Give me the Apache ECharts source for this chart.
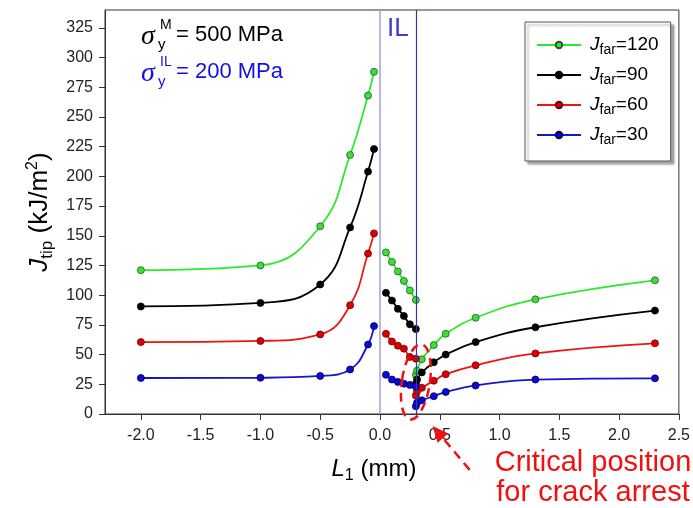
<!DOCTYPE html>
<html>
<head>
<meta charset="utf-8">
<script src="https://cdn.jsdelivr.net/npm/echarts@6.0.0/dist/echarts.min.js"></script>
<style>
  html, body { margin: 0; padding: 0; background: #fff; }
  #chart { width: 693px; height: 508px; }
</style>
</head>
<body>
<div id="chart"></div>
<script>
// L1 positions (mm): matrix left of the interlayer, the interlayer (0..0.3), matrix right
const leftX  = [-2.0, -1.0, -0.5, -0.25, -0.1, -0.05];
const ilX    = [0.05, 0.1, 0.15, 0.2, 0.25, 0.3];
const rightX = [0.3, 0.31, 0.35, 0.45, 0.55, 0.8, 1.3, 2.3];

// J_tip (kJ/m2), one set per far-field J
const j120Left  = [121, 125, 158, 218, 268, 288];
const j120IL    = [136, 128, 120, 112, 104, 96];
const j120Right = [33, 36.5, 46, 58, 67.5, 81, 96.5, 112.5];

const j90Left  = [90.5, 93.5, 109, 157, 204, 223];
const j90IL    = [102, 95.5, 88.5, 82.5, 75.5, 71.5];
const j90Right = [25.5, 29, 35, 43.5, 50, 60.5, 73, 87];

const j60Left  = [60.5, 61.5, 67, 91.5, 135, 152];
const j60IL    = [67.5, 61, 57.5, 55, 48, 46.5];
const j60Right = [15.5, 19, 22, 28, 33.5, 41, 51, 59.5];

const j30Left  = [30.3, 30.5, 32, 37.5, 58.5, 74];
const j30IL    = [33, 29, 27, 25.5, 24.5, 23];
const j30Right = [6.5, 9.5, 11.5, 15, 18.5, 24, 29, 30];

const jFar = [120, 90, 60, 30];
const ilBounds = [0, 0.3];
const xTicks = [-2.0, -1.5, -1.0, -0.5, 0.0, 0.5, 1.0, 1.5, 2.0, 2.5];
const yTicks = [0, 25, 50, 75, 100, 125, 150, 175, 200, 225, 250, 275, 300, 325];

const FONT = '"Liberation Sans", Arial, sans-serif';

const curves = [
  { far: 120, parts: [j120Left, j120IL, j120Right], line: '#2de82d', fill: '#3fdc3f', edge: '#1d5e1d' },
  { far: 90,  parts: [j90Left,  j90IL,  j90Right],  line: '#000000', fill: '#000000', edge: '#000000' },
  { far: 60,  parts: [j60Left,  j60IL,  j60Right],  line: '#ee1414', fill: '#dd0000', edge: '#6a0000' },
  { far: 30,  parts: [j30Left,  j30IL,  j30Right],  line: '#1616c8', fill: '#0a0ad0', edge: '#000060' },
];
const xParts = [leftX, ilX, rightX];

const pairs = (xs, ys) => xs.map((x, i) => [x, ys[i]]);

const series = [];
// boundaries of the interlayer, drawn under the curves
series.push({
  type: 'line', data: [], silent: true, z: 1,
  markLine: {
    symbol: 'none', silent: true, animation: false,
    label: { show: false },
    data: [
      { xAxis: ilBounds[0], lineStyle: { color: '#a0a0e0', width: 1.5, type: 'solid' } },
      { xAxis: ilBounds[1], lineStyle: { color: '#3535a8', width: 1.2, type: 'solid' } },
    ],
  },
});
curves.forEach(c => {
  c.parts.forEach((ys, k) => {
    series.push({
      name: 'Jfar=' + c.far,
      type: 'line',
      z: 3,
      smooth: 0.45,
      symbol: 'circle',
      symbolSize: 7,
      showSymbol: true,
      animation: false,
      data: pairs(xParts[k], ys),
      lineStyle: { color: c.line, width: 1.8 },
      itemStyle: { color: c.fill, borderColor: c.edge, borderWidth: 0.8 },
    });
  });
});

const axisCommon = {
  axisLine: { onZero: false, lineStyle: { color: '#333', width: 1 } },
  splitLine: { show: false },
};

const chart = echarts.init(document.getElementById('chart'), null, { renderer: 'canvas' });
chart.setOption({
  animation: false,
  backgroundColor: '#fff',
  grid: { left: 105, right: 11, top: 10, bottom: 94, show: true, borderColor: '#333', borderWidth: 1 },
  legend: {
    data: jFar.map(v => 'Jfar=' + v),
    orient: 'vertical',
    left: 525, top: 22,
    padding: [11, 12, 14, 11],
    itemWidth: 44, itemHeight: 8, itemGap: 6,
    backgroundColor: '#fff',
    borderColor: '#555', borderWidth: 1,
    shadowColor: 'rgba(0,0,0,0.35)', shadowBlur: 2, shadowOffsetX: 3, shadowOffsetY: 3,
    formatter: n => '{j|J}{s|far}{t|' + n.slice(4) + '}',
    textStyle: {
      rich: {
        j: { fontFamily: FONT, fontStyle: 'italic', fontSize: 19, lineHeight: 24, color: '#000', padding: [0, 0, 0, 4] },
        s: { fontFamily: FONT, fontSize: 14, lineHeight: 14, color: '#000', padding: [10, 0, 0, 0] },
        t: { fontFamily: FONT, fontSize: 19, lineHeight: 24, color: '#000' },
      },
    },
  },
  xAxis: {
    type: 'value', min: -2.3, max: 2.5,
    ...axisCommon,
    axisTick: { length: 6, lineStyle: { color: '#333' }, customValues: xTicks },
    axisLabel: { customValues: xTicks, formatter: v => v.toFixed(1), color: '#222', fontSize: 16, fontFamily: FONT, margin: 14 },
    name: '{l|L}{s|1}{t| (mm)}',
    nameLocation: 'middle', nameGap: 41,
    nameTextStyle: {
      padding: [0, 36, 0, 0],
      rich: {
        l: { fontFamily: FONT, fontStyle: 'italic', fontSize: 24, lineHeight: 29, color: '#000' },
        s: { fontFamily: FONT, fontSize: 16, lineHeight: 16, color: '#000', padding: [13, 0, 0, 0] },
        t: { fontFamily: FONT, fontSize: 24, lineHeight: 29, color: '#000' },
      },
    },
  },
  yAxis: {
    type: 'value', min: 0, max: 340,
    ...axisCommon,
    axisTick: { length: 6, lineStyle: { color: '#333' }, customValues: yTicks },
    axisLabel: { customValues: yTicks, color: '#222', fontSize: 16, fontFamily: FONT, margin: 12 },
    name: '{j|J}{s|tip}{t| (kJ/m}{p|2}{t|)}',
    nameLocation: 'middle', nameGap: 42, nameRotate: 90,
    nameTextStyle: {
      rich: {
        j: { fontFamily: FONT, fontStyle: 'italic', fontSize: 26, lineHeight: 31, color: '#000' },
        s: { fontFamily: FONT, fontSize: 17, lineHeight: 17, color: '#000', padding: [14, 0, 0, 0] },
        t: { fontFamily: FONT, fontSize: 26, lineHeight: 31, color: '#000' },
        p: { fontFamily: FONT, fontSize: 16, lineHeight: 16, color: '#000', padding: [0, 0, 14, 0] },
      },
    },
  },
  series,
});

// annotations anchored in data space
const px = (x, y) => chart.convertToPixel({ gridIndex: 0 }, [x, y]);
const ilLabel = px((ilBounds[0] + ilBounds[1]) / 2, 325);
const ring = px(0.3, 27);
const tip = px(0.44, -10);
const tail = px(0.75, -47);

const dx = tip[0] - tail[0], dy = tip[1] - tail[1];
const len = Math.hypot(dx, dy), ux = dx / len, uy = dy / len;
const headLen = 16, headHalf = 7;
const base = [tip[0] - ux * headLen, tip[1] - uy * headLen];
const RED = '#f01010';

const sigma = (y, color, sup, val) => ([
  { type: 'text', x: 141, y: y + 2, style: { text: 'σ', font: 'italic 28px "Liberation Serif", serif', fill: color, verticalAlign: 'middle' } },
  { type: 'text', x: 160, y: y - 10, style: { text: sup, font: '14px ' + FONT, fill: color, verticalAlign: 'middle' } },
  { type: 'text', x: 158, y: y + 10, style: { text: 'y', font: '15px ' + FONT, fill: color, verticalAlign: 'middle' } },
  { type: 'text', x: 176, y: y, style: { text: '= ' + val + ' MPa', font: '22px ' + FONT, fill: color, verticalAlign: 'middle' } },
]);

chart.setOption({
  graphic: [
    ...sigma(35, '#000', 'M', 500),
    ...sigma(72, '#1010e6', 'IL', 200),
    { type: 'text', x: ilLabel[0], y: 29, style: { text: 'IL', font: '26px ' + FONT, fill: '#3b3bd0', align: 'center', verticalAlign: 'middle' } },
    { type: 'ellipse', x: ring[0], y: ring[1], rotation: -0.15, z: 10,
      shape: { cx: 0, cy: 0, rx: 14, ry: 38 },
      style: { fill: null, stroke: RED, lineWidth: 2.5, lineDash: [9, 6] } },
    { type: 'line', z: 10, shape: { x1: tail[0], y1: tail[1], x2: base[0], y2: base[1] },
      style: { stroke: RED, lineWidth: 2.5, lineDash: [9, 6] } },
    { type: 'polygon', z: 10,
      shape: { points: [tip, [base[0] - uy * headHalf, base[1] + ux * headHalf], [base[0] + uy * headHalf, base[1] - ux * headHalf]] },
      style: { fill: RED } },
    { type: 'text', x: 593, y: 463, style: { text: 'Critical position', font: '29px ' + FONT, fill: RED, align: 'center', verticalAlign: 'middle' } },
    { type: 'text', x: 593, y: 493, style: { text: 'for crack arrest', font: '29px ' + FONT, fill: RED, align: 'center', verticalAlign: 'middle' } },
  ],
});
</script>
</body>
</html>
